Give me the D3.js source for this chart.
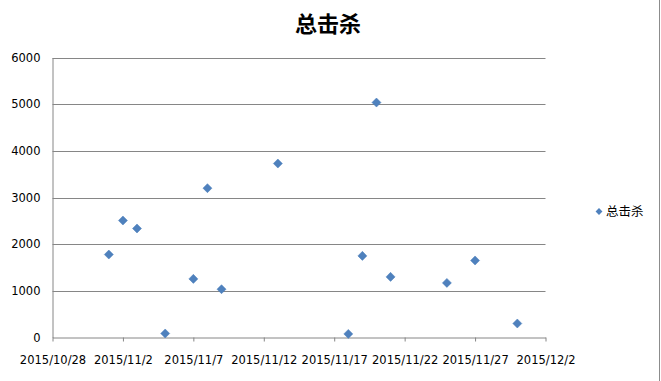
<!DOCTYPE html>
<html>
<head>
<meta charset="utf-8">
<script src="https://cdn.jsdelivr.net/npm/d3@7"></script>
<style>
  body { margin: 0; background: #fff; }
  svg { display: block; }
</style>
</head>
<body>
<svg class="mainSvg" width="661" height="381"></svg>
<script>
// data
var dates = ["2015/11/1", "2015/11/2", "2015/11/3", "2015/11/5", "2015/11/7", "2015/11/8",
  "2015/11/9", "2015/11/13", "2015/11/18", "2015/11/19", "2015/11/20", "2015/11/21",
  "2015/11/25", "2015/11/27", "2015/11/30"];
var kills = [1778, 2507, 2336, 86, 1256, 3200, 1035, 3728, 77, 1749, 5035, 1299, 1170, 1650, 300];
var xTicks = ["2015/10/28", "2015/11/2", "2015/11/7", "2015/11/12", "2015/11/17",
  "2015/11/22", "2015/11/27", "2015/12/2"];
var yTicks = [0, 1000, 2000, 3000, 4000, 5000, 6000];
var seriesName = "总击杀";

var parse = d3.timeParse("%Y/%m/%d");
var fmt = function(d) { return d.getFullYear() + "/" + (d.getMonth() + 1) + "/" + d.getDate(); };

var svg = d3.select(".mainSvg");
var plotL = 52.5, plotR = 545.5, plotT = 57.5, plotB = 337.5;

var x = d3.scaleTime()
  .domain([parse(xTicks[0]), parse(xTicks[xTicks.length - 1])])
  .range([plotL, plotR]);
var y = d3.scaleLinear().domain([0, 6000]).range([plotB, plotT]);

// outer border on the right edge
svg.append("line")
  .attr("x1", 659.5).attr("x2", 659.5).attr("y1", 0).attr("y2", 381)
  .attr("stroke", "#8c8c8c");

// gridlines
svg.append("g").selectAll("line").data(yTicks.slice(1)).enter().append("line")
  .attr("x1", plotL).attr("x2", plotR)
  .attr("y1", function(d) { return Math.round(y(d)) + 0.5; })
  .attr("y2", function(d) { return Math.round(y(d)) + 0.5; })
  .attr("stroke", "#868686");

// y axis
var yAxis = svg.append("g")
  .attr("transform", "translate(" + plotL + ",0)")
  .call(d3.axisLeft(y).tickValues(yTicks).tickSize(0).tickPadding(12).tickFormat(d3.format("d")));
yAxis.select(".domain").attr("stroke", "#868686");
yAxis.selectAll("text").attr("font-family", "DejaVu Sans").attr("font-size", 11.5).attr("fill", "#000");

// x axis
var xAxis = svg.append("g")
  .attr("transform", "translate(0," + plotB + ")")
  .call(d3.axisBottom(x).tickValues(xTicks.map(parse)).tickSize(4).tickSizeOuter(0).tickPadding(14).tickFormat(fmt));
xAxis.select(".domain").attr("stroke", "#868686");
xAxis.selectAll("line").attr("stroke", "#868686");
xAxis.selectAll("text").attr("font-family", "DejaVu Sans").attr("font-size", 11.5).attr("fill", "#000");

// points
var diamond = d3.symbol().type(d3.symbolDiamond2).size(52);
svg.append("g").selectAll("path").data(dates).enter().append("path")
  .attr("d", diamond)
  .attr("transform", function(d, i) { return "translate(" + x(parse(d)) + "," + y(kills[i]) + ")"; })
  .attr("fill", "#4f81bd")
  .attr("stroke", "#4a7ebb")
  .attr("stroke-width", 0.5);

// title
svg.append("text")
  .attr("x", 328).attr("y", 32)
  .attr("text-anchor", "middle")
  .attr("font-family", "Noto Sans CJK SC")
  .attr("font-weight", "bold")
  .attr("font-size", 22)
  .text(seriesName);

// legend
svg.append("path")
  .attr("d", d3.symbol().type(d3.symbolDiamond2).size(30))
  .attr("transform", "translate(599,211.5)")
  .attr("fill", "#4f81bd");
svg.append("text")
  .attr("x", 606).attr("y", 216)
  .attr("font-family", "Noto Sans CJK SC")
  .attr("font-size", 12.5)
  .text(seriesName);
</script>
</body>
</html>
